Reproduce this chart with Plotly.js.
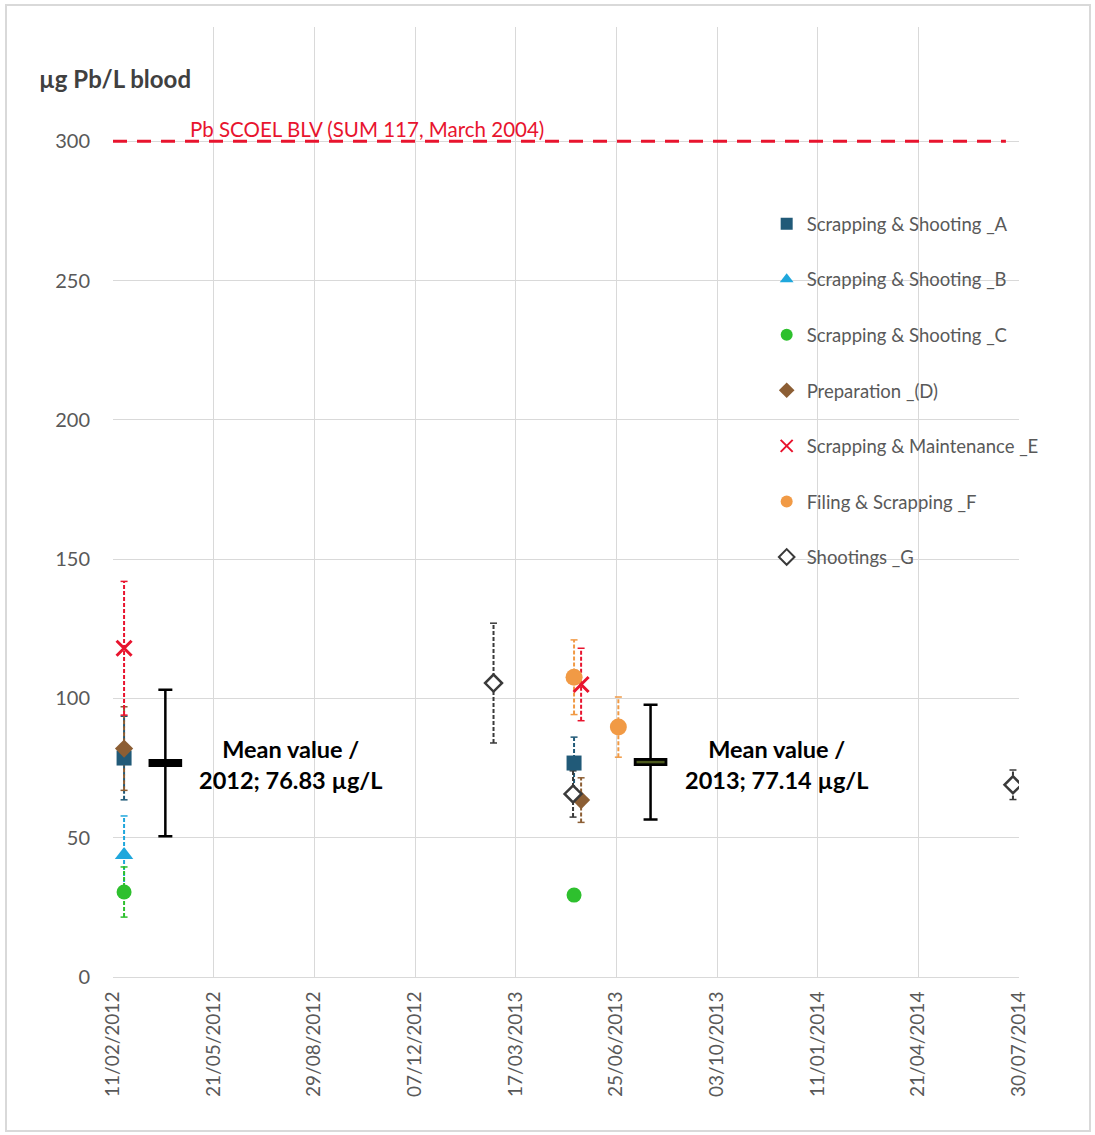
<!DOCTYPE html>
<html>
<head>
<meta charset="utf-8">
<script src="https://cdn.plot.ly/plotly-3.0.1.min.js"></script>
<style>
  html, body { margin: 0; padding: 0; background: #fff; }
  #wrap { position: relative; width: 1095px; height: 1135px; }
  #chart { width: 1095px; height: 1135px; }
  #frame { position: absolute; left: 5px; top: 4px; width: 1082px; height: 1124px;
           border: 2px solid #d9d9d9; pointer-events: none; }
</style>
</head>
<body>
<div id="wrap"><div id="chart"></div><div id="frame"></div></div>
<script>
// ---------- DATA ----------
const tickLabels = ['11/02/2012','21/05/2012','29/08/2012','07/12/2012','17/03/2013',
                    '25/06/2013','03/10/2013','11/01/2014','21/04/2014','30/07/2014'];
const yTicks = [0, 50, 100, 150, 200, 250, 300];

const seriesNames = ['Scrapping & Shooting _A','Scrapping & Shooting _B','Scrapping & Shooting _C',
                     'Preparation _(D)','Scrapping & Maintenance _E','Filing & Scrapping _F','Shootings _G'];

const A_dates = ['2012-02-22','2013-05-14'];  const A_vals = [78.6, 76.8];  const A_err = [15, 9.3];
const B_dates = ['2012-02-22'];               const B_vals = [43.8];        const B_err = [14];
const C_dates = ['2012-02-22','2013-05-14'];  const C_vals = [30.5, 29.4];  const C_err = [9, 0];
const D_dates = ['2012-02-22','2013-05-21'];  const D_vals = [82, 63.5];    const D_err = [15, 8];
const E_dates = ['2012-02-22','2013-05-21'];  const E_vals = [118, 105];    const E_err = [24, 13];
const F_dates = ['2013-05-14','2013-06-27'];  const F_vals = [107.6, 89.7]; const F_err = [13.4, 10.8];
const G_dates = ['2013-02-23','2013-05-13','2014-07-24']; const G_vals = [105.5, 65.7, 69]; const G_err = [21.5, 8.3, 5.3];

const meanDates = ['2012-04-03','2013-07-29'];
const meanVals = [76.83, 77.14];
const meanErr = [26.3, 20.6];
const meanLabels = ['Mean value /<br>2012; 76.83 µg/L', 'Mean value /<br>2013; 77.14 µg/L'];
const meanLabelDates = ['2012-08-05','2013-12-01'];

const limitDates = ['2012-02-11','2014-07-17'];
const limitVals = [300, 300];
const limitLabel = 'Pb SCOEL BLV (SUM 117, March 2004)';
const limitLabelDate = '2012-10-20';
const yTitle = 'µg Pb/L blood';

// ---------- STYLE ----------
const FONT = 'Lato, "Open Sans", sans-serif';
const tickvals = tickLabels.map(s => { const p = s.split('/'); return p[2] + '-' + p[1] + '-' + p[0]; });

const series = [
  {name: seriesNames[0], x: A_dates, y: A_vals, e: A_err, color: '#215A78', symbol: 'square', size: 15},
  {name: seriesNames[1], x: B_dates, y: B_vals, e: B_err, color: '#1FA7DC', symbol: 'triangle-up', size: 16},
  {name: seriesNames[2], x: C_dates, y: C_vals, e: C_err, color: '#2EC02E', symbol: 'circle', size: 15},
  {name: seriesNames[3], x: D_dates, y: D_vals, e: D_err, color: '#8C5E34', symbol: 'diamond', size: 14},
  {name: seriesNames[4], x: E_dates, y: E_vals, e: E_err, color: '#E8142E', symbol: 'x-thin', size: 15},
  {name: seriesNames[5], x: F_dates, y: F_vals, e: F_err, color: '#F19A45', symbol: 'circle', size: 17},
  {name: seriesNames[6], x: G_dates, y: G_vals, e: G_err, color: '#3A3A3A', symbol: 'diamond', size: 13, open: true}
];

const traces = [];

// threshold line
traces.push({
  x: limitDates, y: limitVals, type: 'scatter', mode: 'lines',
  line: {color: '#E8142E', width: 3, dash: '14px,10px'},
  showlegend: false, hoverinfo: 'skip'
});

// error stems (dashed) and caps
series.forEach(s => {
  const sx = [], sy = [], cx = [], cy = [];
  s.x.forEach((d, i) => {
    if (!s.e[i]) return;
    sx.push(d, d, null); sy.push(s.y[i] - s.e[i], s.y[i] + s.e[i], null);
    cx.push(d, d); cy.push(s.y[i] - s.e[i], s.y[i] + s.e[i]);
  });
  traces.push({x: sx, y: sy, type: 'scatter', mode: 'lines',
    line: {color: s.color, width: 2, dash: '4px,2px'}, showlegend: false, hoverinfo: 'skip'});
  traces.push({x: cx, y: cy, type: 'scatter', mode: 'markers',
    marker: {symbol: 'line-ew', size: 5, line: {color: s.color, width: 1.5}},
    showlegend: false, hoverinfo: 'skip'});
});

// means
traces.push({
  x: meanDates, y: meanVals, type: 'scatter', mode: 'markers',
  error_y: {type: 'data', array: meanErr, visible: true, color: '#000', thickness: 2.5, width: 7},
  marker: {symbol: 'line-ew', size: 24, color: '#000', line: {color: '#000', width: 8}},
  showlegend: false, hoverinfo: 'skip'
});
traces.push({
  x: [meanDates[1]], y: [meanVals[1]], type: 'scatter', mode: 'markers',
  marker: {symbol: 'line-ew', size: 20, line: {color: '#4D5A1E', width: 2.5}},
  showlegend: false, hoverinfo: 'skip'
});

// series markers (legend)
series.forEach((s, k) => {
  const isX = s.symbol === 'x-thin';
  traces.push({
    x: s.x, y: s.y, type: 'scatter', mode: 'markers', name: s.name,
    legendgroup: 'g' + k,
    marker: {
      symbol: s.symbol, size: s.size,
      color: s.open ? '#ffffff' : s.color,
      line: isX ? {color: s.color, width: 3} : (s.open ? {color: s.color, width: 2.5} : {width: 0})
    }
  });
});

const annotations = [
  {xref: 'x', yref: 'y', x: limitLabelDate, y: 300, yanchor: 'bottom', yshift: -2,
   text: limitLabel, showarrow: false, font: {family: FONT, size: 20.5, color: '#E8142E'}},
  {xref: 'paper', yref: 'paper', x: -0.0839, y: 0.946, xanchor: 'left', yanchor: 'middle',
   text: '<b>' + yTitle + '</b>', showarrow: false, font: {family: FONT, size: 24, color: '#404040'}}
];
meanLabels.forEach((t, i) => annotations.push({
  xref: 'x', yref: 'y', x: meanLabelDates[i], y: 76.4, text: '<b>' + t + '</b>',
  showarrow: false, align: 'center', font: {family: FONT, size: 23.5, color: '#000'}
}));

const layout = {
  width: 1095, height: 1135,
  margin: {l: 113, r: 76, t: 27, b: 158, pad: 0},
  paper_bgcolor: '#fff', plot_bgcolor: '#fff',
  font: {family: FONT, color: '#595959'},
  showlegend: true,
  legend: {x: 0.7215, y: 0.8125, xanchor: 'left', yanchor: 'top', bgcolor: 'rgba(0,0,0,0)',
           font: {family: FONT, size: 18.5, color: '#595959'}, tracegroupgap: 28.5, itemsizing: 'constant'},
  xaxis: {
    type: 'date', range: [tickvals[0], tickvals[tickvals.length - 1]],
    tickmode: 'array', tickvals: tickvals, ticktext: tickLabels, tickangle: -90,
    tickfont: {family: FONT, size: 19, color: '#595959'},
    showgrid: true, gridcolor: '#d9d9d9', gridwidth: 1,
    showline: true, linecolor: '#d9d9d9', linewidth: 1, ticks: '', zeroline: false,
    ticklabelstandoff: 6
  },
  yaxis: {
    range: [0, 341], tickmode: 'array', tickvals: yTicks,
    tickfont: {family: FONT, size: 20, color: '#595959'},
    showgrid: true, gridcolor: '#d9d9d9', gridwidth: 1,
    showline: false, ticks: '', zeroline: false, ticklabelstandoff: 22
  },
  annotations: annotations
};

Plotly.newPlot('chart', traces, layout, {displayModeBar: false, staticPlot: true});
</script>
</body>
</html>
